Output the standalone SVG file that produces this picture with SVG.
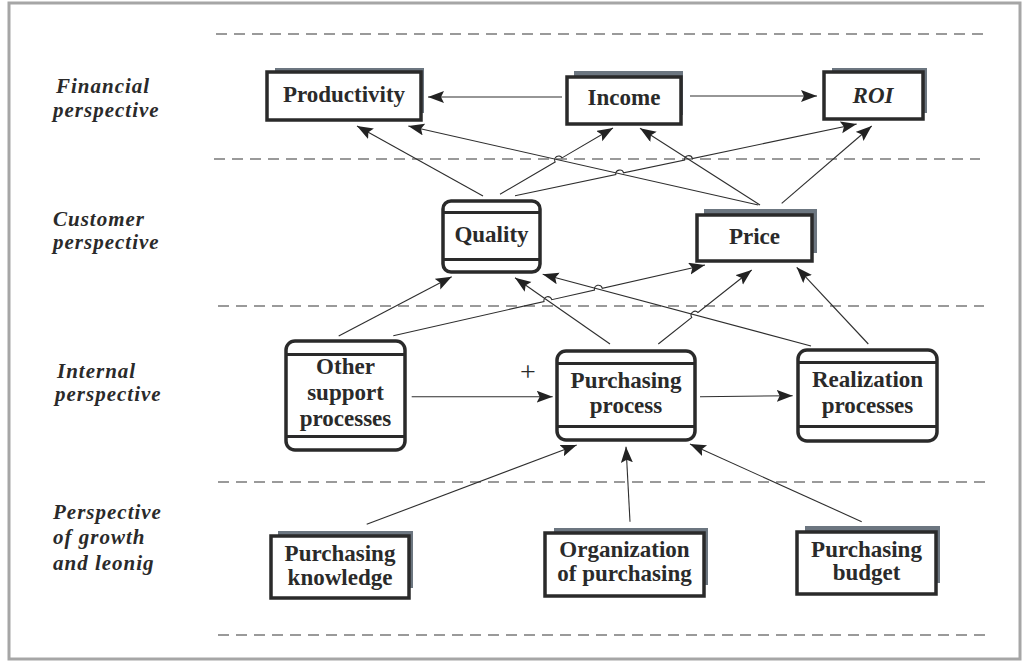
<svg xmlns="http://www.w3.org/2000/svg" width="1024" height="662" viewBox="0 0 1024 662">
<style>
.frame{fill:#fff;stroke:#a6a6a6;stroke-width:3}
.dash{stroke:#7a7a7a;stroke-width:1.5;stroke-dasharray:11 7;fill:none}
.shadow{fill:#6c7680}
.box{fill:#fff;stroke:#2a2a2a;stroke-width:3.5}
.rbox{fill:#fff;stroke:#2a2a2a;stroke-width:3.5}
.sep{stroke:#2a2a2a;stroke-width:3}
.t{font-family:"Liberation Serif","Times New Roman",serif;font-weight:bold;font-size:23px;fill:#2a2a2a;text-anchor:middle}
.ti{font-style:italic}
.lbl{font-family:"Liberation Serif","Times New Roman",serif;font-weight:bold;font-style:italic;font-size:21px;letter-spacing:1px;fill:#2a2a2a}
.plus{font-family:"Liberation Serif","Times New Roman",serif;font-size:28px;fill:#2a2a2a;text-anchor:middle}
.c{fill:none;stroke:#2e2e2e;stroke-width:1.1}
.a{marker-end:url(#ah)}
</style>
<defs>
<marker id="ah" markerUnits="userSpaceOnUse" markerWidth="18" markerHeight="14" refX="16" refY="6" orient="auto">
<path d="M0,0 L16,6 L0,12 L3,6 z" fill="#222"/>
</marker>
</defs>
<rect class="frame" x="9" y="3" width="1011" height="656"/>
<g id="lanes">
<line class="dash" x1="216" y1="34" x2="983" y2="34"/>
<line class="dash" x1="214" y1="159" x2="980" y2="159"/>
<line class="dash" x1="218" y1="306" x2="984" y2="306"/>
<line class="dash" x1="218" y1="482" x2="986" y2="482"/>
<line class="dash" x1="218" y1="635" x2="986" y2="635"/>
</g>
<g id="lane-labels">
<text class="lbl" x="56" y="93">Financial</text>
<text class="lbl" x="53" y="117">perspective</text>
<text class="lbl" x="53" y="226">Customer</text>
<text class="lbl" x="53" y="249">perspective</text>
<text class="lbl" x="57" y="378">Internal</text>
<text class="lbl" x="55" y="401">perspective</text>
<text class="lbl" x="53" y="519">Perspective</text>
<text class="lbl" x="53" y="544">of growth</text>
<text class="lbl" x="53" y="570">and leonig</text>
</g>
<g id="connectors">
<line class="c a" x1="562" y1="97" x2="428" y2="97"/>
<line class="c a" x1="690" y1="96" x2="817" y2="96"/>
<line class="c a" x1="483" y1="196" x2="357" y2="126"/>
<path class="c a" d="M500,194.3 L555.15,161.92 A4,4 0 0 1 562.05,157.88 L613,128"/>
<path class="c a" d="M515,195.7 L615.8,174.5 A4,4 0 0 1 623.6,172.9 L684.6,160.1 A4,4 0 0 1 692.4,158.5 L856.7,124"/>
<line class="c a" x1="758.3" y1="205" x2="408.3" y2="126"/>
<line class="c a" x1="760" y1="205" x2="640" y2="128.3"/>
<line class="c a" x1="781.7" y1="203.3" x2="871.7" y2="126"/>
<line class="c a" x1="338.7" y1="336" x2="451.7" y2="276.7"/>
<path class="c a" d="M393.3,335.7 L544,301.5 A4,4 0 0 1 551.8,299.7 L594.5,290.1 A4,4 0 0 1 602.3,288.3 L705,265"/>
<line class="c a" x1="610" y1="344" x2="515" y2="277.7"/>
<path class="c a" d="M658.3,344 L691.8,317.5 A4,4 0 0 1 698,312.5 L751.7,270"/>
<line class="c a" x1="811" y1="346" x2="542.7" y2="274.3"/>
<line class="c a" x1="868.3" y1="344" x2="796.7" y2="267.3"/>
<line class="c a" x1="411.7" y1="396.7" x2="552.7" y2="396.7"/>
<line class="c a" x1="700" y1="396.7" x2="792.7" y2="395.7"/>
<line class="c a" x1="366.7" y1="524.3" x2="576.7" y2="445"/>
<line class="c a" x1="630" y1="521.7" x2="626" y2="446.7"/>
<line class="c a" x1="861.7" y1="521.7" x2="690" y2="444"/>
<text class="plus" x="528" y="381">+</text>
</g>
<g id="productivity">
<rect class="shadow" x="275" y="68" width="149" height="45"/>
<rect class="box" x="267" y="72" width="154" height="48"/>
<text class="t" x="344" y="102">Productivity</text>
</g>
<g id="income">
<rect class="shadow" x="574" y="71" width="109" height="44"/>
<rect class="box" x="567" y="77" width="114" height="47"/>
<text class="t" x="624" y="105">Income</text>
</g>
<g id="roi">
<rect class="shadow" x="832" y="68" width="95" height="45"/>
<rect class="box" x="824" y="72" width="99" height="47"/>
<text class="t ti" x="873" y="103">ROI</text>
</g>
<g id="quality">
<rect class="rbox" x="443" y="201" width="97" height="71" rx="8"/>
<line class="sep" x1="443" y1="212.5" x2="540" y2="212.5"/>
<line class="sep" x1="443" y1="259.5" x2="540" y2="259.5"/>
<text class="t" x="491.5" y="242">Quality</text>
</g>
<g id="price">
<rect class="shadow" x="704" y="209" width="113" height="44"/>
<rect class="box" x="697" y="215" width="115" height="46"/>
<text class="t" x="754.5" y="244">Price</text>
</g>
<g id="other-support">
<rect class="rbox" x="286" y="341" width="119" height="109" rx="9"/>
<line class="sep" x1="286" y1="354.5" x2="405" y2="354.5"/>
<line class="sep" x1="286" y1="436.5" x2="405" y2="436.5"/>
<text class="t" x="345.5" y="374">Other</text>
<text class="t" x="345.5" y="400">support</text>
<text class="t" x="345.5" y="426">processes</text>
</g>
<g id="purchasing-process">
<rect class="rbox" x="557" y="351" width="138" height="89" rx="9"/>
<line class="sep" x1="557" y1="363.5" x2="695" y2="363.5"/>
<line class="sep" x1="557" y1="426.5" x2="695" y2="426.5"/>
<text class="t" x="626" y="388">Purchasing</text>
<text class="t" x="626" y="413">process</text>
</g>
<g id="realization">
<rect class="rbox" x="798" y="350" width="139" height="91" rx="9"/>
<line class="sep" x1="798" y1="362.5" x2="937" y2="362.5"/>
<line class="sep" x1="798" y1="426.5" x2="937" y2="426.5"/>
<text class="t" x="867.5" y="387">Realization</text>
<text class="t" x="867.5" y="413">processes</text>
</g>
<g id="purchasing-knowledge">
<rect class="shadow" x="278" y="531" width="135" height="57"/>
<rect class="box" x="271" y="536" width="138" height="62"/>
<text class="t" x="340" y="561">Purchasing</text>
<text class="t" x="340" y="585">knowledge</text>
</g>
<g id="organization">
<rect class="shadow" x="554" y="528" width="154" height="57"/>
<rect class="box" x="545" y="533" width="159" height="63"/>
<text class="t" x="624.5" y="557">Organization</text>
<text class="t" x="624.5" y="581">of purchasing</text>
</g>
<g id="purchasing-budget">
<rect class="shadow" x="805" y="526" width="135" height="57"/>
<rect class="box" x="797" y="532" width="139" height="62"/>
<text class="t" x="866.5" y="557">Purchasing</text>
<text class="t" x="866.5" y="580">budget</text>
</g>
</svg>
